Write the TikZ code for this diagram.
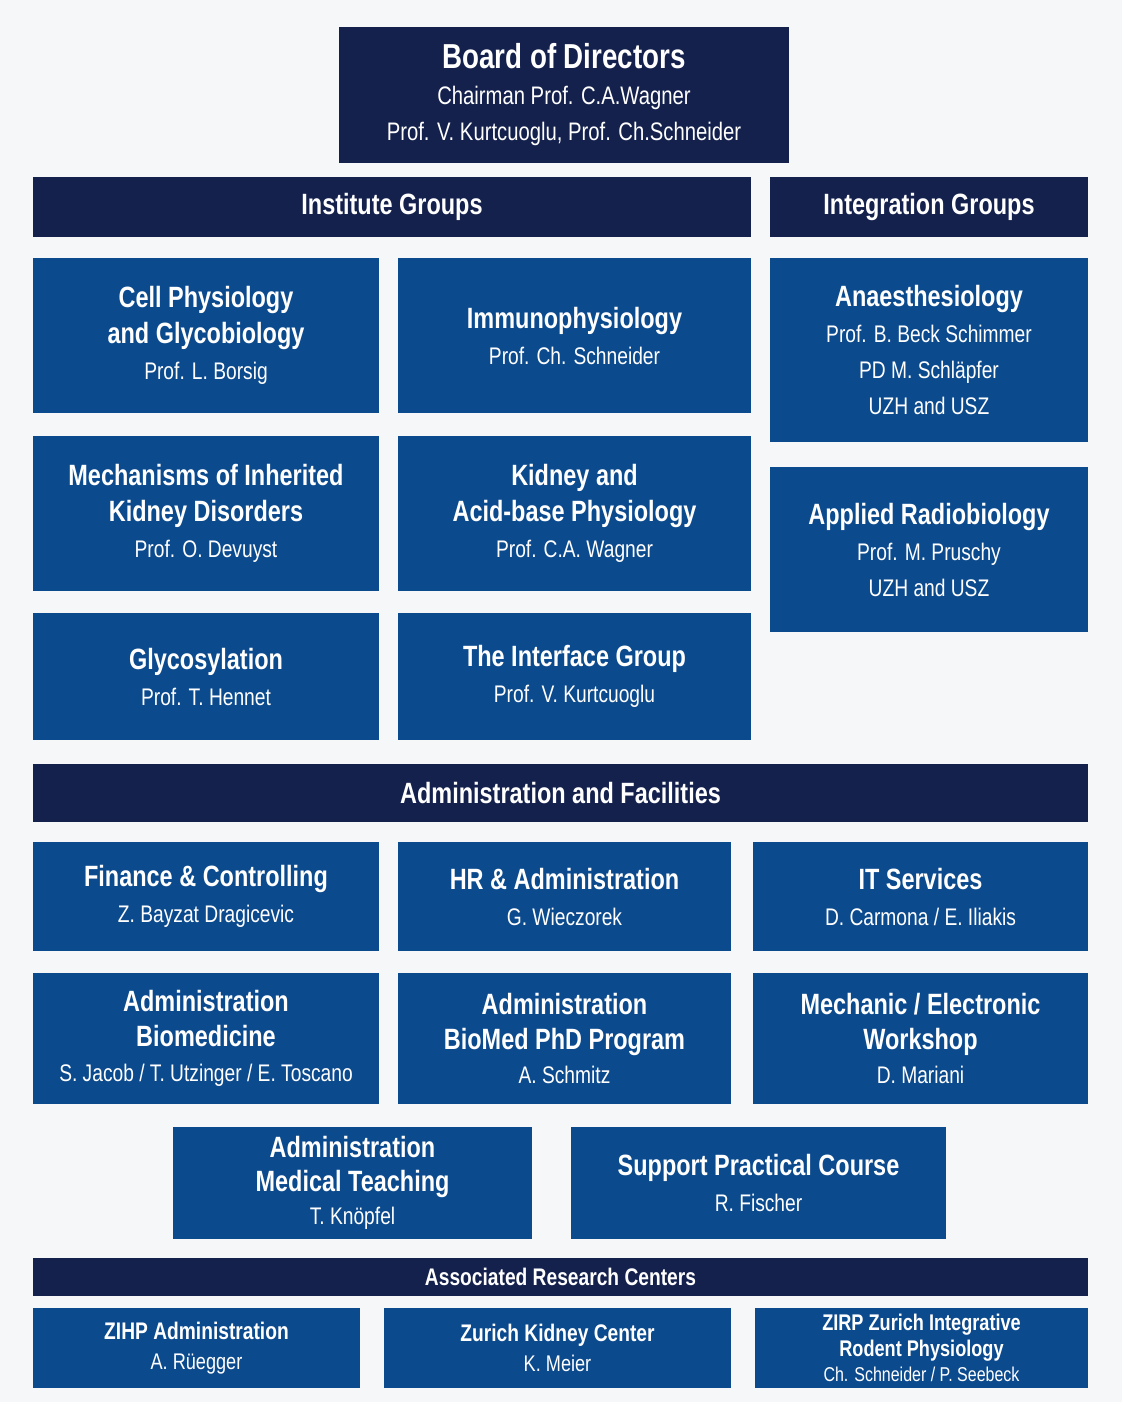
\documentclass[tikz,border=0pt]{standalone}
\usepackage{fontspec}
\setmainfont{Liberation Sans}[FakeStretch=0.8]
\usetikzlibrary{positioning}
\definecolor{navy}{HTML}{14214D}
\definecolor{unitblue}{HTML}{0C4A8E}
\definecolor{paper}{HTML}{F6F7F9}
\newcommand{\ttl}[1]{{\fontsize{22}{26}\selectfont\bfseries #1}}
\tikzset{
  head/.style={fill=navy, text=white, inner sep=0pt, align=center,
    font=\fontsize{22}{26}\selectfont\bfseries},
  unit/.style={fill=unitblue, text=white, inner sep=0pt, align=center,
    font=\fontsize{18}{27}\selectfont},
}
% box from pixel corners: name, x1, y1, x2, y2
\newcommand{\orgbox}[6]{%
  \node[#1, minimum width={(#4-#2)*0.75pt}, minimum height={(#5-#3)*0.75pt}]
    (#6) at ({(#2+#4)/2},{(#3+#5)/2})}
\begin{document}
\begin{tikzpicture}[x=0.75pt,y=-0.75pt]
  \fill[paper] (0,0) rectangle (1122,1402);
  \useasboundingbox (0,0) rectangle (1122,1402);
  % board
  \orgbox{head,font=\fontsize{19}{27}\selectfont}{339}{27}{789}{163}{board}
    {{\fontsize{26}{30}\selectfont\bfseries Board of Directors}\\Chairman Prof. C.A.Wagner\\Prof. V. Kurtcuoglu, Prof. Ch.Schneider};
  % group headers
  \orgbox{head}{33}{177}{751}{237}{insthead}{Institute Groups};
  \orgbox{head}{770}{177}{1088}{237}{integhead}{Integration Groups};
  % institute groups
  \orgbox{unit}{33}{258}{379}{413}{cellphys}{\ttl{Cell Physiology}\\\ttl{and Glycobiology}\\Prof. L. Borsig};
  \orgbox{unit}{398}{258}{751}{413}{immuno}{\ttl{Immunophysiology}\\Prof. Ch. Schneider};
  \orgbox{unit}{33}{436}{379}{591}{mechan}{\ttl{Mechanisms of Inherited}\\\ttl{Kidney Disorders}\\Prof. O. Devuyst};
  \orgbox{unit}{398}{436}{751}{591}{kidney}{\ttl{Kidney and}\\\ttl{Acid-base Physiology}\\Prof. C.A. Wagner};
  \orgbox{unit}{33}{613}{379}{740}{glyco}{\ttl{Glycosylation}\\Prof. T. Hennet};
  \orgbox{unit}{398}{613}{751}{740}{interface}{\ttl{The Interface Group}\\Prof. V. Kurtcuoglu};
  % integration groups
  \orgbox{unit}{770}{258}{1088}{442}{anaesth}{\ttl{Anaesthesiology}\\Prof. B. Beck Schimmer\\PD M. Schläpfer\\UZH and USZ};
  \orgbox{unit}{770}{467}{1088}{632}{radio}{\ttl{Applied Radiobiology}\\Prof. M. Pruschy\\UZH and USZ};
  % administration
  \orgbox{head}{33}{764}{1088}{822}{adminhead}{Administration and Facilities};
  \orgbox{unit}{33}{842}{379}{951}{finance}{\ttl{Finance \& Controlling}\\Z. Bayzat Dragicevic};
  \orgbox{unit}{398}{842}{731}{951}{hr}{\ttl{HR \& Administration}\\G. Wieczorek};
  \orgbox{unit}{753}{842}{1088}{951}{it}{\ttl{IT Services}\\D. Carmona / E. Iliakis};
  \orgbox{unit,font=\fontsize{18}{26}\selectfont}{33}{973}{379}{1104}{adminbio}{\ttl{Administration}\\\ttl{Biomedicine}\\S. Jacob / T. Utzinger / E. Toscano};
  \orgbox{unit,font=\fontsize{18}{26}\selectfont}{398}{973}{731}{1104}{adminphd}{\ttl{Administration}\\\ttl{BioMed PhD Program}\\A. Schmitz};
  \orgbox{unit,font=\fontsize{18}{26}\selectfont}{753}{973}{1088}{1104}{workshop}{\ttl{Mechanic / Electronic}\\\ttl{Workshop}\\D. Mariani};
  \orgbox{unit,font=\fontsize{18}{25}\selectfont}{173}{1127}{532}{1239}{teaching}{{\fontsize{22}{25}\selectfont\bfseries Administration}\\{\fontsize{22}{25}\selectfont\bfseries Medical Teaching}\\T. Knöpfel};
  \orgbox{unit}{571}{1127}{946}{1239}{course}{\ttl{Support Practical Course}\\R. Fischer};
  % associated centers
  \orgbox{head,font=\fontsize{18}{20}\selectfont\bfseries}{33}{1258}{1088}{1296}{assochead}{Associated Research Centers};
  \orgbox{unit,font=\fontsize{17}{23}\selectfont}{33}{1308}{360}{1388}{zihp}{{\fontsize{18}{23}\selectfont\bfseries ZIHP Administration}\\A. Rüegger};
  \orgbox{unit,font=\fontsize{17}{23}\selectfont}{384}{1308}{731}{1388}{zkc}{{\fontsize{18}{23}\selectfont\bfseries Zurich Kidney Center}\\K. Meier};
  \orgbox{unit,font=\fontsize{15}{19}\selectfont}{755}{1308}{1088}{1388}{zirp}{{\fontsize{17}{19}\selectfont\bfseries ZIRP Zurich Integrative}\\{\fontsize{17}{19}\selectfont\bfseries Rodent Physiology}\\Ch. Schneider / P. Seebeck};
\end{tikzpicture}
\end{document}
